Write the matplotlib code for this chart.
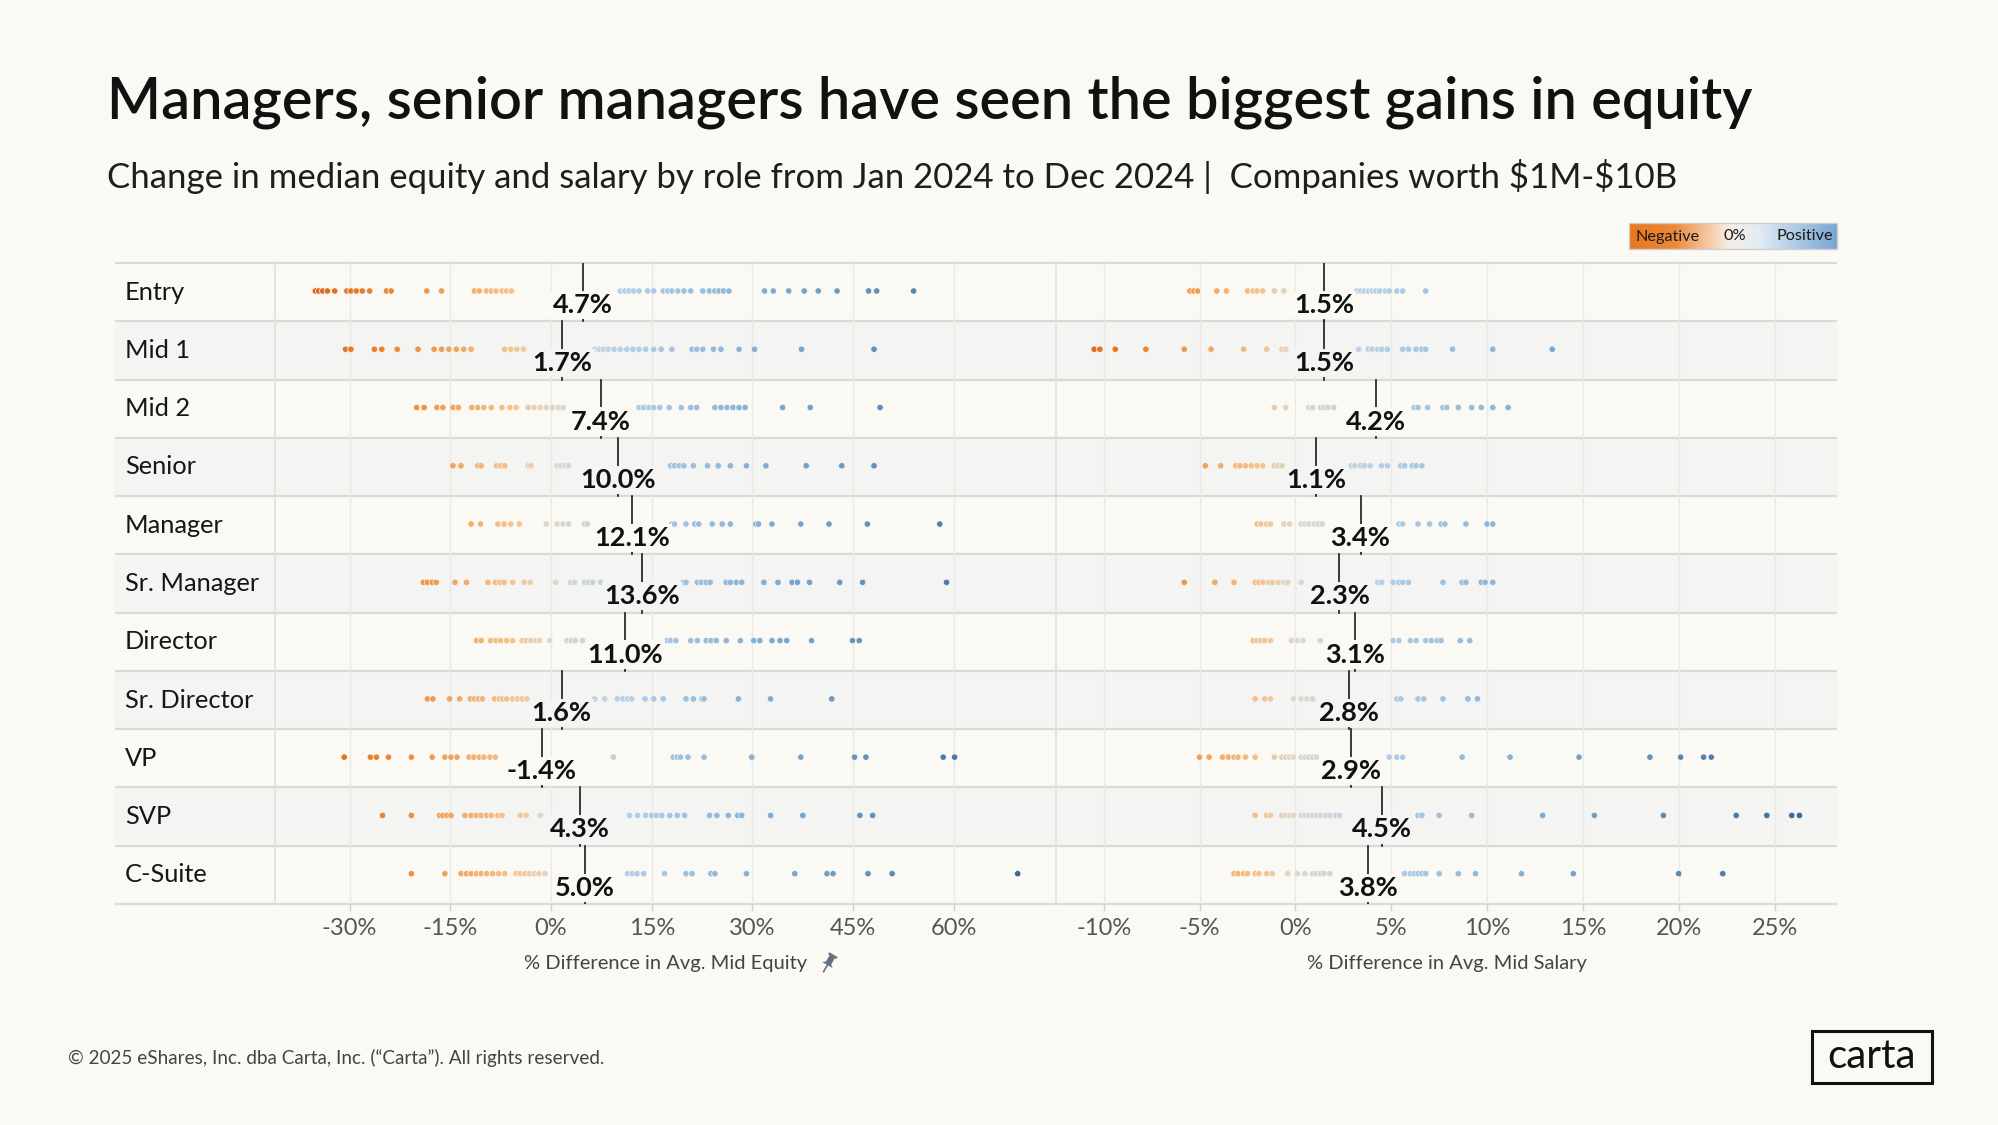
import numpy as np
import matplotlib
matplotlib.use("Agg")
import matplotlib.pyplot as plt
from matplotlib.colors import LinearSegmentedColormap, TwoSlopeNorm
from matplotlib.patches import Rectangle, Polygon
from matplotlib import font_manager as fm

# ---------------- data ----------------
roles = ["Entry", "Mid 1", "Mid 2", "Senior", "Manager", "Sr. Manager",
         "Director", "Sr. Director", "VP", "SVP", "C-Suite"]

equity_median = [4.7, 1.7, 7.4, 10.0, 12.1, 13.6, 11.0, 1.6, -1.4, 4.3, 5.0]
salary_median = [1.5, 1.5, 4.2, 1.1, 3.4, 2.3, 3.1, 2.8, 2.9, 4.5, 3.8]

eq_entry = [-35.1, -34.6, -34.0, -33.3, -32.2, -30.4, -29.8, -29.0, -28.1, -27.0, -24.5, -23.8,
            -18.5, -16.3, -11.4, -10.7, -9.6, -8.9, -8.2, -7.3, -6.6, -5.9, 10.3, 11.0, 11.6,
            12.3, 13.1, 14.4, 15.3, 16.7, 17.4, 18.0, 18.9, 19.8, 20.8, 22.6, 23.6, 24.4, 25.0,
            25.7, 26.5, 31.8, 33.1, 35.4, 37.7, 39.8, 42.6, 47.3, 48.5, 54.0]
eq_mid1 = [-30.6, -29.8, -26.3, -25.2, -22.9, -19.8, -17.4, -16.3, -15.2, -14.1, -13.0, -11.9,
           -6.9, -6.0, -5.1, -4.1, 6.5, 7.2, 7.8, 8.5, 9.4, 10.3, 11.3, 12.2, 13.1, 14.1, 15.3,
           16.4, 18.0, 21.0, 21.7, 22.6, 24.2, 25.3, 28.0, 30.3, 37.3, 48.1]
eq_mid2 = [-20.0, -18.9, -17.0, -16.1, -14.6, -13.8, -11.8, -10.9, -10.0, -8.9, -7.3, -6.1,
           -5.2, -3.4, -2.5, -1.6, -0.7, 0.2, 1.1, 1.8, 13.1, 13.8, 14.6, 15.3, 16.2, 17.6,
           19.4, 20.8, 21.7, 24.4, 25.3, 26.2, 27.1, 28.0, 28.9, 34.5, 38.6, 49.0]
eq_senior = [-14.6, -13.4, -10.9, -10.4, -8.1, -7.5, -6.9, -3.4, -3.0, 0.9, 1.5, 2.1, 2.6,
             17.8, 18.4, 19.1, 19.8, 21.2, 23.3, 24.9, 26.7, 29.1, 32.0, 38.0, 43.3, 48.1]
eq_manager = [-11.9, -10.5, -7.9, -7.0, -6.0, -4.7, -0.7, 0.9, 1.8, 2.6, 5.0, 5.4, 18.0, 18.4,
              20.1, 21.4, 22.0, 24.0, 25.5, 26.7, 30.5, 30.9, 32.9, 37.2, 41.4, 47.1, 57.9]
eq_srmanager = [-19.0, -18.4, -17.7, -17.1, -14.3, -12.6, -9.4, -8.3, -7.6, -7.0, -5.7, -4.0,
                -3.1, 0.7, 2.9, 3.5, 5.0, 5.6, 6.2, 7.4, 19.7, 20.1, 21.8, 22.4, 23.1, 23.7,
                26.1, 26.7, 27.6, 28.4, 31.7, 33.8, 35.9, 36.7, 38.5, 43.0, 46.4, 58.9]
eq_director = [-11.1, -10.4, -9.0, -8.2, -7.5, -6.6, -5.7, -4.3, -3.7, -3.0, -2.2, -1.7, -0.2,
               2.4, 3.0, 3.6, 4.7, 17.3, 17.8, 18.6, 20.8, 21.8, 23.1, 23.8, 24.6, 26.1, 28.2,
               30.2, 31.1, 32.9, 34.1, 35.1, 38.8, 44.9, 45.9]
eq_srdirector = [-18.4, -17.6, -15.1, -13.6, -12.0, -11.4, -10.8, -10.2, -8.4, -7.7, -7.2, -6.6,
                 -5.7, -5.0, -4.3, -3.6, 6.5, 8.0, 9.9, 10.7, 11.4, 12.0, 14.0, 15.3, 16.7,
                 20.1, 21.2, 22.5, 22.8, 27.9, 32.7, 41.8]
eq_vp = [-30.8, -26.9, -26.0, -24.2, -20.8, -17.7, -15.8, -14.9, -14.0, -12.2, -11.5, -10.7,
         -10.0, -9.1, -8.3, 9.3, 18.2, 18.8, 19.3, 20.4, 22.8, 29.9, 37.2, 45.2, 46.9, 58.4, 60.1]
eq_svp = [-25.1, -20.8, -16.6, -16.1, -15.5, -14.9, -12.8, -11.9, -11.1, -10.4, -9.6, -8.9,
          -7.9, -7.3, -4.6, -3.7, -1.6, 11.7, 12.9, 14.1, 15.0, 15.7, 16.5, 17.7, 18.8, 19.9,
          23.6, 24.7, 26.4, 27.8, 28.4, 32.7, 37.5, 46.0, 47.9]
eq_csuite = [-20.8, -15.8, -13.4, -12.6, -11.9, -11.1, -10.4, -9.6, -8.7, -7.8, -6.9, -5.2,
             -4.6, -3.9, -3.2, -2.5, -1.8, -0.9, 11.4, 12.1, 12.8, 13.8, 16.9, 20.1, 21.0,
             23.8, 24.4, 29.1, 36.3, 41.1, 42.0, 47.2, 50.8, 69.5]

sal_entry = [-5.5, -5.3, -5.1, -4.1, -3.6, -2.5, -2.2, -2.0, -1.7, -1.1, -0.6, 3.2, 3.4, 3.6,
             3.8, 4.0, 4.2, 4.4, 4.7, 4.9, 5.3, 5.6, 6.8]
sal_mid1 = [-10.5, -10.2, -9.4, -7.8, -5.8, -4.4, -2.7, -1.5, -0.7, -0.5, 3.3, 3.8, 4.0, 4.3,
            4.5, 4.8, 5.6, 5.9, 6.3, 6.6, 6.8, 8.2, 10.3, 13.4]
sal_mid2 = [-1.1, -0.5, 0.7, 0.9, 1.3, 1.5, 1.7, 2.0, 6.2, 6.4, 6.9, 7.7, 7.9, 8.5, 9.2, 9.7,
            10.3, 11.1]
sal_senior = [-4.7, -3.9, -3.1, -2.9, -2.6, -2.3, -2.0, -1.7, -1.1, -0.9, -0.7, 2.9, 3.1, 3.4,
              3.6, 3.9, 4.5, 4.8, 5.5, 5.7, 6.1, 6.3, 6.6]
sal_manager = [-2.0, -1.8, -1.5, -1.3, -0.6, -0.3, 0.3, 0.5, 0.7, 1.0, 1.2, 1.4, 5.4, 5.6, 6.4,
               7.0, 7.6, 7.8, 8.9, 10.0, 10.3]
sal_srmanager = [-5.8, -4.2, -3.2, -2.1, -1.9, -1.7, -1.4, -1.2, -0.9, -0.6, -0.4, 0.3, 4.3,
                 4.5, 5.1, 5.4, 5.6, 5.9, 7.7, 8.7, 8.9, 9.7, 9.9, 10.3]
sal_director = [-2.2, -2.0, -1.8, -1.6, -1.3, -0.2, 0.1, 0.4, 1.3, 5.1, 5.4, 6.0, 6.3, 6.8,
                7.1, 7.4, 7.6, 8.6, 9.1]
sal_srdirector = [-2.1, -1.6, -1.3, -0.1, 0.3, 0.6, 0.9, 5.3, 5.5, 6.4, 6.7, 7.7, 9.0, 9.5]
sal_vp = [-5.0, -4.5, -3.8, -3.5, -3.2, -3.0, -2.6, -2.1, -1.1, -0.7, -0.5, -0.3, -0.1, 0.3,
          0.5, 0.7, 0.9, 1.1, 4.9, 5.3, 5.6, 8.7, 11.2, 14.8, 18.5, 20.1, 21.3, 21.7]
sal_svp = [-2.1, -1.5, -1.3, -0.7, -0.5, -0.3, -0.1, 0.3, 0.5, 0.7, 0.9, 1.1, 1.3, 1.6, 1.8,
           2.1, 2.3, 6.4, 6.6, 7.5, 9.2, 12.9, 15.6, 19.2, 23.0, 24.6, 25.9, 26.3]
sal_csuite = [-3.2, -3.0, -2.7, -2.5, -2.1, -1.9, -1.5, -1.2, -0.4, 0.1, 0.5, 0.9, 1.1, 1.3,
              1.5, 1.8, 5.7, 6.0, 6.2, 6.4, 6.6, 6.8, 7.5, 8.5, 9.4, 11.8, 14.5, 20.0, 22.3]

equity_ticks = [-30, -15, 0, 15, 30, 45, 60]
salary_ticks = [-10, -5, 0, 5, 10, 15, 20, 25]

title = "Managers, senior managers have seen the biggest gains in equity"
subtitle = "Change in median equity and salary by role from Jan 2024 to Dec 2024 |  Companies worth $1M-$10B"
equity_label = "% Difference in Avg. Mid Equity"
salary_label = "% Difference in Avg. Mid Salary"
footer = "\u00a9 2025 eShares, Inc. dba Carta, Inc. (\u201cCarta\u201d). All rights reserved."

equity_rows = [eq_entry, eq_mid1, eq_mid2, eq_senior, eq_manager, eq_srmanager,
               eq_director, eq_srdirector, eq_vp, eq_svp, eq_csuite]
salary_rows = [sal_entry, sal_mid1, sal_mid2, sal_senior, sal_manager, sal_srmanager,
               sal_director, sal_srdirector, sal_vp, sal_svp, sal_csuite]

# ---------------- style ----------------
def has_font(name):
    try:
        fm.findfont(fm.FontProperties(family=name), fallback_to_default=False)
        return True
    except Exception:
        return False

BASE = 'Lato' if has_font('Lato') else 'DejaVu Sans'
plt.rcParams['font.family'] = [BASE, 'DejaVu Sans']

W, H = 1999, 1125
DPI = 100
BG = '#fbf9f4'
ROW_A = '#fbf9f3'
ROW_B = '#f4f4f3'
SEP = '#d9d9d6'
GRID = '#ebe9e4'

TL, LR, MID, TR = 115, 275, 1056, 1837
TT, TB = 263, 904
n = len(roles)
rh = (TB - TT) / n

dot_cmap = LinearSegmentedColormap.from_list('div', [
    (0.0, '#e06a1b'), (0.22, '#ee9444'), (0.42, '#f5c490'), (0.5, '#dcd8d0'),
    (0.58, '#b3d0e8'), (0.75, '#7aa8d1'), (1.0, '#3a6697')])
leg_cmap = LinearSegmentedColormap.from_list('leg', [
    (0.0, '#e8761f'), (0.22, '#ec8a3a'), (0.48, '#f8eee4'), (0.62, '#e3edf5'), (1.0, '#78a6d1')])

fig = plt.figure(figsize=(W / DPI, H / DPI), dpi=DPI, facecolor=BG)

# overlay in pixel coordinates
ov = fig.add_axes([0, 0, 1, 1], zorder=0)
ov.set_facecolor('none')
ov.axis('off')

row_colors = [ROW_A if i % 2 == 0 else ROW_B for i in range(n)]
for i in range(n):
    ov.add_patch(Rectangle((TL, TT + i * rh), TR - TL, rh, facecolor=row_colors[i],
                           edgecolor='none', zorder=0))
for i in range(n + 1):
    ov.plot([TL, TR], [TT + i * rh] * 2, color=SEP, lw=1.6, zorder=1, solid_capstyle='butt')
for x in (LR, MID):
    ov.plot([x, x], [TT, TB], color='#e2e0dc', lw=1.2, zorder=1)

t_title = ov.text(107, 102, title, fontsize=36, fontweight='semibold', color='#111111',
                  ha='left', va='center')
t_sub = ov.text(107, 177, subtitle, fontsize=22, color='#1e1e1e', ha='left', va='center',
                parse_math=False)
row_texts = [ov.text(125, TT + (i + 0.5) * rh, r, fontsize=17, color='#161616',
                     ha='left', va='center') for i, r in enumerate(roles)]

# legend
ov.imshow(np.linspace(0, 1, 256)[None, :], extent=[1629, 1837, 249, 223], cmap=leg_cmap,
          aspect='auto', zorder=2)
ov.add_patch(Rectangle((1629, 223), 208, 26, facecolor='none', edgecolor='#cfcfcf', lw=1, zorder=3))
t_neg = ov.text(1636, 236.5, "Negative", fontsize=11, color='#1a1a1a', ha='left', va='center', zorder=4)
t_zero = ov.text(1735, 236.5, "0%", fontsize=11, color='#1a1a1a', ha='center', va='center', zorder=4)
t_pos = ov.text(1833, 236.5, "Positive", fontsize=11, color='#1a1a1a', ha='right', va='center', zorder=4)

# footer + logo
t_foot = ov.text(68, 1058, footer, fontsize=11, color='#444444', ha='left', va='center')
ov.add_patch(Rectangle((1812, 1031), 120, 52, facecolor='none', edgecolor='#111111', lw=2.2))
t_logo = ov.text(1872, 1056, "carta", fontsize=22, color='#111111', ha='center', va='center')

# pin icon next to equity axis label
pin = np.array([(-4, -9), (4, -9), (4, -7), (2.5, -7), (2.5, -1), (5, 1), (0.7, 1), (0.7, 8),
                (-0.7, 8), (-0.7, 1), (-5, 1), (-2.5, -1), (-2.5, -7), (-4, -7)], float) * 1.2
th = np.deg2rad(30)
rot = np.array([[np.cos(th), -np.sin(th)], [np.sin(th), np.cos(th)]])
pin = pin @ rot.T + np.array([828, 964])
ov.add_patch(Polygon(pin, closed=True, facecolor='#66727f', edgecolor='none'))

ov.set_xlim(0, W)
ov.set_ylim(H, 0)


def panel(rect, rows, meds, xlim, ticks, vmin, vmax, xlabel):
    ax = fig.add_axes(rect, zorder=1)
    ax.set_facecolor('none')
    for s in ax.spines.values():
        s.set_visible(False)
    ax.set_xlim(*xlim)
    ax.set_ylim(n - 0.5, -0.5)
    ax.set_yticks([])
    ax.set_xticks(ticks)
    ax.set_xticklabels([f"{t}%" for t in ticks])
    ax.tick_params(axis='x', length=5, width=1, color='#cfcfcf', labelcolor='#555555',
                   pad=5, labelsize=13)
    for t in ticks:
        ax.axvline(t, color=GRID, lw=1, zorder=0)
    norm = TwoSlopeNorm(vmin=vmin, vcenter=0, vmax=vmax)
    labels = []
    for i, vals in enumerate(rows):
        v = np.asarray(vals, float)
        ax.scatter(v, np.full(len(v), i - 0.02), c=v, cmap=dot_cmap, norm=norm, s=21,
                   edgecolors=row_colors[i], linewidths=0.5, zorder=2)
        ax.plot([meds[i], meds[i]], [i - 0.5, i + 0.5], color='#1a1a1a', lw=1.2, zorder=3)
        labels.append(ax.text(meds[i], i + 0.22, f"{meds[i]:.1f}%", ha='center', va='center',
                              fontweight='bold', fontsize=19.5, color='#111111', zorder=4,
                              bbox=dict(boxstyle='square,pad=0.08', fc=row_colors[i], ec='none')))
    xl = ax.text(0.5, (TB - 964) / (TB - TT), xlabel, transform=ax.transAxes, ha='center',
                 va='center', fontsize=13, color='#444444')
    return ax, labels, xl


axL, labL, xlL = panel([LR / W, 1 - TB / H, (MID - LR) / W, (TB - TT) / H], equity_rows,
                       equity_median, (-41.1, 75.2), equity_ticks, -35, 70, equity_label)
axR, labR, xlR = panel([MID / W, 1 - TB / H, (TR - MID) / W, (TB - TT) / H], salary_rows,
                       salary_median, (-12.49, 28.26), salary_ticks, -11, 27, salary_label)

# ---------------- fit text widths to the reference ----------------
fig.canvas.draw()
rend = fig.canvas.get_renderer()


def fit(txts, target, ref=None):
    ref = ref if ref is not None else txts[0]
    w = ref.get_window_extent(rend).width
    s = ref.get_fontsize() * target / w
    for t in txts:
        t.set_fontsize(s)
    return s


fit([t_title], 1647)
fit([t_sub], 1567)
fit(row_texts, 134, ref=row_texts[5])
fit([t_neg, t_zero, t_pos], 64, ref=t_neg)
fit([t_foot], 534)
fit([t_logo], 88)
fit([xlL, xlR], 282, ref=xlL)
tl = axL.get_xticklabels()[0]
s_tick = tl.get_fontsize() * 55 / tl.get_window_extent(rend).width
axL.tick_params(axis='x', labelsize=s_tick)
axR.tick_params(axis='x', labelsize=s_tick)

fig.savefig("out.png", dpi=DPI, facecolor=BG)
